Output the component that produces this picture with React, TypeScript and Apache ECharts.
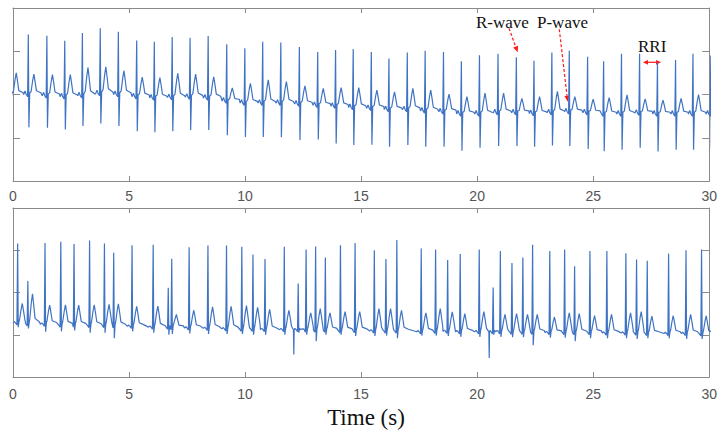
import React, { useEffect, useRef } from "react";
import * as echarts from "echarts";

// ---------- Top panel (sinus rhythm) : per-beat readings ----------
// first beat lies just before t = 0 (only its T wave is visible)
const topRTimes = [-0.10, 0.66, 1.46, 2.23, 2.99, 3.76, 4.54, 5.33, 6.09, 6.86, 7.63, 8.41, 9.21, 9.99, 10.76, 11.54, 12.34, 13.13, 13.90, 14.66, 15.44, 16.20, 16.99, 17.76, 18.55, 19.32, 20.10, 20.90, 21.69, 22.45, 23.22, 23.97, 24.76, 25.45, 26.22, 27.00, 27.77, 28.55, 29.30, 30.07];
const topRPeaks = [0.05, 1.39, 1.36, 1.24, 1.42, 1.53, 1.45, 1.25, 1.22, 1.33, 1.31, 1.35, 1.16, 1.07, 1.22, 1.20, 1.10, 0.98, 1.03, 1.05, 0.98, 0.83, 0.97, 1.01, 0.98, 0.77, 0.91, 0.94, 0.86, 0.78, 0.97, 1.01, 0.87, 0.77, 0.94, 0.94, 0.74, 0.80, 0.94, 0.90];
const topSDips = [-0.05, -0.76, -0.77, -0.81, -0.73, -0.67, -0.73, -0.85, -0.87, -0.85, -0.82, -0.82, -0.94, -0.98, -0.98, -0.99, -1.05, -1.04, -1.13, -1.17, -1.16, -1.21, -1.17, -1.21, -1.21, -1.30, -1.23, -1.19, -1.19, -1.21, -1.18, -1.19, -1.26, -1.31, -1.28, -1.23, -1.32, -1.28, -1.28, -1.25];
const topTPeaks = [0.50, 0.47, 0.46, 0.46, 0.62, 0.64, 0.55, 0.40, 0.39, 0.49, 0.47, 0.41, 0.15, 0.26, 0.34, 0.30, 0.20, 0.14, 0.16, 0.16, 0.10, 0.06, 0.14, 0.10, 0.01, -0.05, 0.03, 0.03, -0.09, -0.05, 0.07, -0.05, -0.11, -0.07, -0.01, -0.10, -0.13, -0.09, 0.00, 0.00];
const topBaseline = [0.0, 0.0, -0.03, -0.05, -0.03, 0.02, 0.0, -0.05, -0.08, -0.07, -0.06, -0.08, -0.15, -0.20, -0.20, -0.20, -0.22, -0.25, -0.27, -0.30, -0.32, -0.35, -0.35, -0.38, -0.40, -0.45, -0.45, -0.42, -0.42, -0.44, -0.42, -0.40, -0.42, -0.45, -0.45, -0.43, -0.45, -0.45, -0.45, -0.45];

// ---------- Bottom panel (irregular rhythm) : per-beat readings ----------
const botRTimes = [0.20, 0.64, 1.38, 2.06, 2.63, 3.30, 3.94, 4.34, 5.13, 6.04, 6.69, 6.84, 7.59, 8.40, 9.20, 9.86, 10.34, 10.86, 11.69, 12.29, 12.63, 13.04, 13.46, 14.11, 14.74, 15.57, 16.07, 16.54, 17.59, 18.21, 18.73, 19.27, 20.09, 20.69, 21.00, 21.50, 21.97, 22.39, 23.13, 23.77, 24.20, 24.86, 25.59, 26.41, 26.87, 27.33, 28.25, 29.00, 29.67];
const botRPeaks = [1.16, 0.27, 1.17, 1.20, 1.15, 1.23, 1.16, 0.94, 1.12, 1.13, 0.11, 0.80, 1.07, 1.11, 1.11, 1.08, 0.90, 0.79, 1.08, 0.21, 1.02, 1.09, 0.83, 1.12, 1.17, 1.00, 0.79, 1.24, 1.04, 1.02, 0.77, 0.91, 1.02, 0.12, 0.98, 0.70, 0.83, 1.13, 0.98, 1.02, 0.62, 0.98, 0.98, 0.93, 0.78, 0.75, 0.92, 1.00, 1.02];
const botSDips = [-0.82, -0.85, -0.93, -0.92, -0.90, -0.95, -0.95, -1.08, -0.92, -0.95, -1.00, -0.98, -0.97, -0.98, -0.98, -0.98, -1.00, -1.00, -1.00, -0.95, -1.00, -1.15, -1.00, -1.00, -1.03, -1.03, -1.02, -1.08, -1.02, -1.02, -1.03, -1.05, -1.05, -1.00, -1.05, -1.06, -1.06, -1.25, -1.07, -1.07, -1.15, -1.08, -1.08, -1.08, -1.10, -1.08, -1.08, -1.10, -1.10];
const botTPeaks = [-0.26, -0.03, -0.30, -0.29, -0.30, -0.29, -0.28, -0.27, -0.33, -0.32, -0.82, -0.52, -0.42, -0.34, -0.33, -0.31, -0.35, -0.40, -0.42, -0.86, -0.48, -0.38, -0.48, -0.45, -0.45, -0.38, -0.38, -0.42, -0.48, -0.38, -0.46, -0.50, -0.45, -0.90, -0.52, -0.50, -0.52, -0.52, -0.58, -0.48, -0.50, -0.55, -0.52, -0.48, -0.45, -0.56, -0.55, -0.52, -0.55];
const botBaseline = [-0.72, -0.74, -0.75, -0.77, -0.77, -0.78, -0.78, -0.79, -0.80, -0.82, -0.82, -0.83, -0.84, -0.85, -0.86, -0.87, -0.87, -0.88, -0.88, -0.88, -0.89, -0.89, -0.89, -0.90, -0.90, -0.91, -0.91, -0.91, -0.93, -0.92, -0.92, -0.93, -0.93, -0.93, -0.93, -0.94, -0.94, -0.94, -0.95, -0.95, -0.95, -0.95, -0.96, -0.96, -0.96, -0.97, -0.97, -0.97, -0.98];
const botSpikeTimes = [12.10, 20.52];
const botSpikeValues = [-1.47, -1.55];

const xTicks = [0, 5, 10, 15, 20, 25, 30];

type Ev = { t: number; kind: "b" | "s"; i: number };

function buildTrace(
  rT: number[], rP: number[], sD: number[], tP: number[], base: number[],
  pAmp: number, tOff: number, spT: number[] = [], spV: number[] = []
): number[][] {
  const events: Ev[] = rT.map((t, i) => ({ t, kind: "b" as const, i }))
    .concat(spT.map((t, i) => ({ t, kind: "s" as const, i })))
    .sort((a, b) => a.t - b.t);
  const pts: number[][] = [];
  let last = -Infinity;
  const push = (t: number, v: number) => {
    if (t > last + 0.002) {
      pts.push([+t.toFixed(3), +v.toFixed(3)]);
      last = t;
    }
  };
  events.forEach((e, k) => {
    const next = k + 1 < events.length ? events[k + 1].t : Infinity;
    const limit = next - 0.06;
    if (e.kind === "s") {
      let bi = rT.findIndex((t) => t > e.t);
      if (bi < 0) bi = rT.length - 1;
      const b = base[bi];
      push(e.t - 0.015, b);
      push(e.t, spV[e.i]);
      if (e.t + 0.015 < limit) push(e.t + 0.015, b);
      return;
    }
    const i = e.i, r = e.t, b = base[i], T = tP[i], A = T - b;
    push(r - 0.2, b);
    push(r - 0.14, b + pAmp);
    push(r - 0.09, b);
    push(r - 0.03, b - 0.05);
    push(r, rP[i]);
    const post: number[][] = [
      [0.025, sD[i]],
      [0.06, b + 0.04],
      [tOff - 0.12, b + 0.15 * A],
      [tOff - 0.05, b + 0.7 * A],
      [tOff, T],
      [tOff + 0.05, b + 0.65 * A],
      [tOff + 0.11, b + 0.18 * A],
      [tOff + 0.3, b + 0.04],
    ];
    post.forEach(([o, v]) => {
      if (r + o < limit) push(r + o, v);
    });
  });
  return pts;
}

function arrowHead(tx: number, ty: number, fx: number, fy: number, len = 6, half = 2.6) {
  const dx = tx - fx, dy = ty - fy;
  const L = Math.hypot(dx, dy);
  const ux = dx / L, uy = dy / L;
  const bx = tx - ux * len, by = ty - uy * len;
  const px = -uy * half, py = ux * half;
  return {
    base: [bx, by],
    poly: [[tx, ty], [bx + px, by + py], [bx - px, by - py]],
  };
}

const AXIS_COLOR = "#8a8a8a";
const LABEL_COLOR = "#555555";
const LINE_COLOR = "#3f73c3";
const RED = "#ff1a1a";

export default function App() {
  const ref = useRef<HTMLDivElement>(null);
  useEffect(() => {
    if (!ref.current) return;
    const chart = echarts.init(ref.current, undefined, { renderer: "svg" });
    const topData = buildTrace(topRTimes, topRPeaks, topSDips, topTPeaks, topBaseline, 0.08, 0.24);
    const botData = buildTrace(botRTimes, botRPeaks, botSDips, botTPeaks, botBaseline, 0.03, 0.2, botSpikeTimes, botSpikeValues);

    const mkX = (grid: number, pos: "bottom" | "top", showLabel: boolean, margin: number) => ({
      type: "value" as const,
      gridIndex: grid,
      position: pos,
      min: xTicks[0],
      max: xTicks[xTicks.length - 1],
      interval: 5,
      axisLine: { show: true, onZero: false, lineStyle: { color: AXIS_COLOR, width: 1 } },
      axisTick: { show: true, inside: true, length: 5, lineStyle: { color: AXIS_COLOR } },
      axisLabel: {
        show: showLabel,
        margin,
        color: LABEL_COLOR,
        fontSize: 14,
        fontFamily: "Liberation Sans",
      },
      splitLine: { show: false },
    });
    const mkY = (grid: number, pos: "left" | "right") => ({
      type: "value" as const,
      gridIndex: grid,
      position: pos,
      min: -2,
      max: 2,
      interval: 1,
      axisLine: { show: true, onZero: false, lineStyle: { color: AXIS_COLOR, width: 1 } },
      axisTick: { show: true, inside: true, length: 7, lineStyle: { color: AXIS_COLOR } },
      axisLabel: { show: false },
      splitLine: { show: false },
    });

    const rArrow = arrowHead(517.7, 52.3, 509, 28.3);
    const pArrow = arrowHead(567.7, 101.7, 559.3, 29.3);
    const rriL = arrowHead(643, 62.3, 661, 62.3, 5, 2.4);
    const rriR = arrowHead(661, 62.3, 643, 62.3, 5, 2.4);

    const txt = (text: string, x: number, y: number, size: number, align = "left") => ({
      type: "text",
      x,
      y,
      style: {
        text,
        fontFamily: "Liberation Serif",
        fontSize: size,
        fill: "#111",
        textAlign: align,
        textVerticalAlign: "middle",
      },
    });

    chart.setOption({
      animation: false,
      backgroundColor: "#ffffff",
      grid: [
        { left: 13, top: 8, width: 699, height: 173 },
        { left: 13, top: 208, width: 699, height: 169 },
      ],
      xAxis: [mkX(0, "bottom", true, 8), mkX(0, "top", false, 8), mkX(1, "bottom", true, 10), mkX(1, "top", false, 8)],
      yAxis: [mkY(0, "left"), mkY(0, "right"), mkY(1, "left"), mkY(1, "right")],
      series: [
        {
          type: "line",
          xAxisIndex: 0,
          yAxisIndex: 0,
          data: topData,
          showSymbol: false,
          clip: true,
          lineStyle: { color: LINE_COLOR, width: 1.2 },
          emphasis: { disabled: true },
        },
        {
          type: "line",
          xAxisIndex: 2,
          yAxisIndex: 2,
          data: botData,
          showSymbol: false,
          clip: true,
          lineStyle: { color: LINE_COLOR, width: 1.2 },
          emphasis: { disabled: true },
        },
      ],
      graphic: [
        txt("Time (s)", 366, 417, 23, "center"),
        txt("R-wave", 476, 22, 17),
        txt("P-wave", 537, 22, 17),
        txt("RRI", 638, 46.5, 17),
        {
          type: "line",
          shape: { x1: 509, y1: 28.3, x2: rArrow.base[0], y2: rArrow.base[1] },
          style: { stroke: RED, lineWidth: 1.2, lineDash: [3, 2] },
        },
        { type: "polygon", shape: { points: rArrow.poly }, style: { fill: RED } },
        {
          type: "line",
          shape: { x1: 559.3, y1: 29.3, x2: pArrow.base[0], y2: pArrow.base[1] },
          style: { stroke: RED, lineWidth: 1.2, lineDash: [3, 2] },
        },
        { type: "polygon", shape: { points: pArrow.poly }, style: { fill: RED } },
        {
          type: "line",
          shape: { x1: rriL.base[0], y1: 62.3, x2: rriR.base[0], y2: 62.3 },
          style: { stroke: RED, lineWidth: 1.2 },
        },
        { type: "polygon", shape: { points: rriL.poly }, style: { fill: RED } },
        { type: "polygon", shape: { points: rriR.poly }, style: { fill: RED } },
      ],
    });
    return () => chart.dispose();
  }, []);
  return (
    <div
      ref={ref}
      style={{ position: "absolute", left: 0, top: 0, width: 720, height: 431 }}
    />
  );
}
